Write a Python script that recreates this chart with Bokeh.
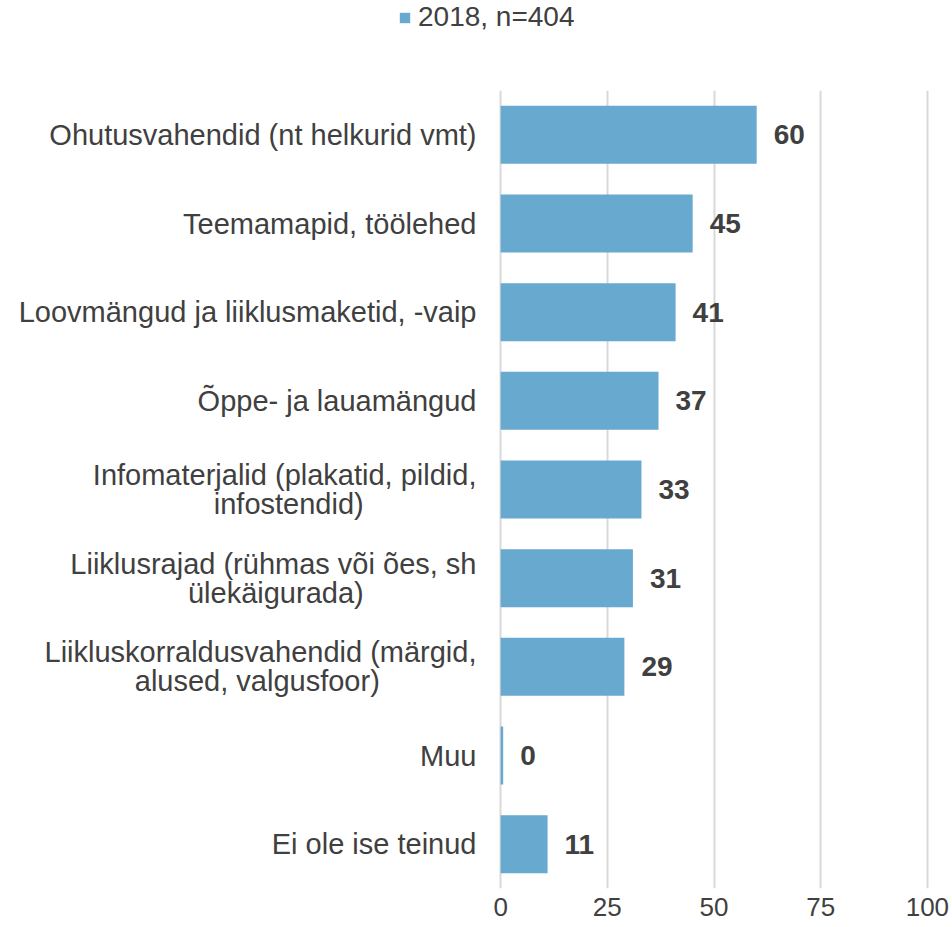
from bokeh.plotting import figure
from bokeh.layouts import column, row
from bokeh.models import ColumnDataSource, Range1d, FactorRange, FixedTicker, Legend, LegendItem
from bokeh.core.properties import value
from bokeh.embed import file_html
from bokeh.resources import INLINE

NB = "\u00a0"
categories = [
    "Ohutusvahendid (nt helkurid vmt)",
    "Teemamapid, töölehed",
    "Loovmängud ja liiklusmaketid, -vaip",
    "Õppe- ja lauamängud",
    "Infomaterjalid (plakatid, pildid,\ninfostendid)" + NB * 14,
    "Liiklusrajad (rühmas või ões, sh\nülekäigurada)" + NB * 14,
    "Liikluskorraldusvahendid (märgid,\nalused, valgusfoor)" + NB * 12,
    "Muu",
    "Ei ole ise teinud",
]
values = [60, 45, 41, 37, 33, 31, 29, 0.6, 11]
value_labels = ["60", "45", "41", "37", "33", "31", "29", "0", "11"]
x_ticks = [0, 25, 50, 75, 100]
series_name = "2018, n=404"

FONT = "Liberation Sans"
TXT = "#404040"
BAR = "#68a9d0"
GRID = "#d9d9d9"

# ---------- legend strip ----------
top = figure(width=952, height=90, x_range=Range1d(0, 952), y_range=Range1d(0, 90),
             output_backend="svg", toolbar_location=None,
             x_axis_type=None, y_axis_type=None,
             min_border_left=0, min_border_right=0, min_border_top=0, min_border_bottom=0)
if "frame_align" in top.properties():
    top.frame_align = False
top.outline_line_color = None
top.xgrid.visible = False
top.ygrid.visible = False
# legend key renderer (its single bar lies outside the visible strip)
dummy = top.hbar(y="y", left="l", right="r", height=1,
                 source=ColumnDataSource(dict(y=[-1000], l=[0], r=[1])),
                 fill_color=BAR, line_color=None)
legend = Legend(
    items=[LegendItem(label=series_name, renderers=[dummy])],
    location=(398, 57), orientation="horizontal",
    glyph_width=13, glyph_height=13, label_standoff=7,
    label_text_font=FONT, label_text_font_size="28px", label_text_color=TXT,
    padding=0, margin=0, border_line_color=None, background_fill_alpha=0,
)
top.add_layout(legend, "center")

# ---------- main chart ----------
src = ColumnDataSource(dict(cat=categories, val=values, lab=value_labels))

p = figure(
    width=952, height=837,
    y_range=FactorRange(factors=list(reversed(categories)), range_padding=0),
    x_range=Range1d(-0.5, 100.5),
    output_backend="svg", toolbar_location=None,
    min_border_left=498, min_border_right=23, min_border_top=0, min_border_bottom=39,
)
if "frame_align" in p.properties():
    p.frame_align = False
p.outline_line_color = None
p.background_fill_color = "white"
p.border_fill_color = "white"

bars = p.hbar(y="cat", right="val", left=0, height=0.655, source=src,
              fill_color=BAR, line_color=None)

p.text(x="val", y="cat", text="lab", source=src, x_offset=17,
       text_font=value(FONT), text_font_size="28px", text_font_style="bold",
       text_color=TXT, text_baseline="middle", text_align="left")

p.xaxis.ticker = FixedTicker(ticks=x_ticks)
p.xaxis.axis_line_color = None
p.xaxis.major_tick_line_color = None
p.xaxis.minor_tick_line_color = None
p.xaxis.major_tick_out = 0
p.xaxis.major_tick_in = 0
p.xaxis.major_label_standoff = 9
p.xaxis.major_label_text_font = FONT
p.xaxis.major_label_text_font_size = "26px"
p.xaxis.major_label_text_color = TXT

p.yaxis.axis_line_color = None
p.yaxis.major_tick_line_color = None
p.yaxis.major_tick_out = 0
p.yaxis.major_tick_in = 0
p.yaxis.major_label_standoff = 22
p.yaxis.major_label_text_font = FONT
p.yaxis.major_label_text_font_size = "29px"
p.yaxis.major_label_text_color = TXT
p.yaxis.major_label_text_line_height = 0.91

p.ygrid.grid_line_color = None
p.xgrid.grid_line_color = GRID
p.xgrid.grid_line_width = 2

layout = column(row(top), p, spacing=0)
open("out.html", "w").write(file_html(layout, INLINE))
